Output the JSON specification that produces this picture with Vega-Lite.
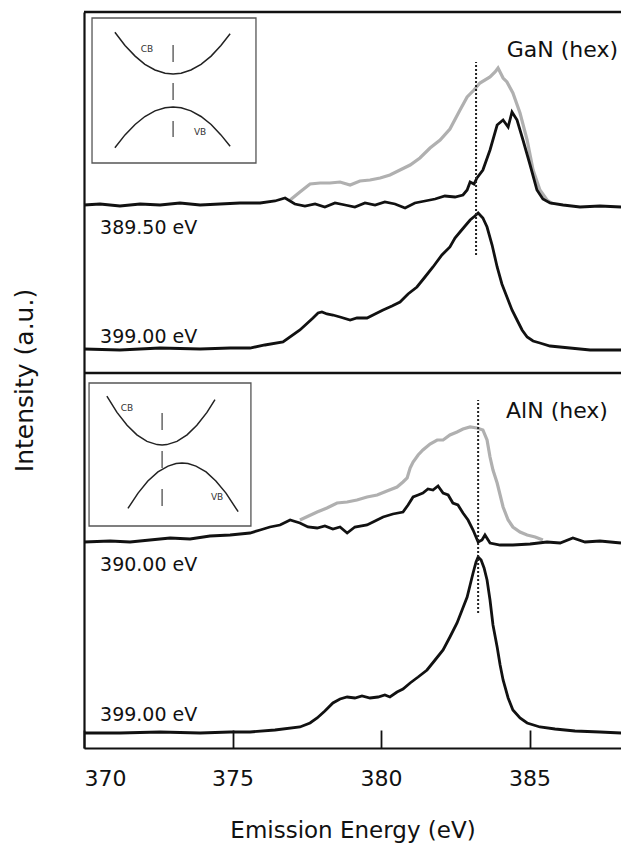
{
  "$schema": "https://vega.github.io/schema/vega-lite/v6.json",
  "width": 537,
  "height": 736,
  "autosize": "none",
  "padding": {"left": 84, "top": 12, "right": 0, "bottom": 95},
  "config": {"font": "DejaVu Sans", "view": {"stroke": null}, "axis": {"grid": false}},
  "datasets": {
    "gan389": [{"e":370.00,"i":543},{"e":370.54,"i":544},{"e":371.21,"i":542},{"e":371.89,"i":544},{"e":372.56,"i":543},{"e":373.23,"i":545},{"e":373.91,"i":543},{"e":374.58,"i":544},{"e":375.25,"i":545},{"e":375.93,"i":545},{"e":376.43,"i":547},{"e":376.77,"i":550},{"e":377.10,"i":544},{"e":377.44,"i":542},{"e":377.78,"i":544},{"e":378.11,"i":541},{"e":378.45,"i":545},{"e":378.79,"i":543},{"e":379.12,"i":541},{"e":379.46,"i":545},{"e":379.80,"i":543},{"e":380.13,"i":546},{"e":380.47,"i":544},{"e":380.81,"i":540},{"e":381.14,"i":545},{"e":381.48,"i":547},{"e":381.82,"i":549},{"e":382.15,"i":552},{"e":382.49,"i":551},{"e":382.76,"i":553},{"e":382.90,"i":558},{"e":383.00,"i":566},{"e":383.13,"i":564},{"e":383.23,"i":570},{"e":383.43,"i":578},{"e":383.67,"i":598},{"e":383.91,"i":623},{"e":384.11,"i":628},{"e":384.28,"i":621},{"e":384.41,"i":636},{"e":384.58,"i":628},{"e":384.78,"i":608},{"e":385.02,"i":583},{"e":385.25,"i":558},{"e":385.45,"i":549},{"e":385.69,"i":545},{"e":386.13,"i":543},{"e":386.70,"i":541},{"e":387.37,"i":542},{"e":388.08,"i":541}],
    "gan389ref": [{"e":376.94,"i":548},{"e":377.27,"i":556},{"e":377.61,"i":564},{"e":377.95,"i":565},{"e":378.28,"i":565},{"e":378.62,"i":566},{"e":378.96,"i":563},{"e":379.29,"i":567},{"e":379.63,"i":568},{"e":379.97,"i":570},{"e":380.30,"i":573},{"e":380.64,"i":578},{"e":380.98,"i":583},{"e":381.31,"i":590},{"e":381.65,"i":600},{"e":381.99,"i":608},{"e":382.32,"i":619},{"e":382.66,"i":638},{"e":382.90,"i":651},{"e":383.13,"i":658},{"e":383.33,"i":665},{"e":383.67,"i":671},{"e":383.84,"i":676},{"e":383.94,"i":680},{"e":384.11,"i":670},{"e":384.24,"i":666},{"e":384.44,"i":655},{"e":384.68,"i":635},{"e":384.92,"i":608},{"e":385.12,"i":578},{"e":385.35,"i":558},{"e":385.59,"i":548},{"e":385.79,"i":544}],
    "gan399": [{"e":370.00,"i":399},{"e":371.21,"i":398},{"e":372.56,"i":400},{"e":373.91,"i":399},{"e":374.92,"i":400},{"e":375.59,"i":400},{"e":376.09,"i":403},{"e":376.70,"i":406},{"e":377.27,"i":418},{"e":377.71,"i":430},{"e":377.88,"i":435},{"e":378.01,"i":436},{"e":378.18,"i":434},{"e":378.38,"i":433},{"e":378.62,"i":431},{"e":378.96,"i":428},{"e":379.19,"i":430},{"e":379.53,"i":430},{"e":379.80,"i":434},{"e":380.07,"i":438},{"e":380.37,"i":442},{"e":380.64,"i":446},{"e":380.91,"i":454},{"e":381.21,"i":461},{"e":381.48,"i":471},{"e":381.75,"i":481},{"e":382.05,"i":493},{"e":382.32,"i":501},{"e":382.49,"i":510},{"e":382.66,"i":516},{"e":382.83,"i":522},{"e":383.00,"i":528},{"e":383.16,"i":532},{"e":383.27,"i":535},{"e":383.43,"i":530},{"e":383.57,"i":521},{"e":383.74,"i":503},{"e":383.91,"i":481},{"e":384.07,"i":464},{"e":384.24,"i":451},{"e":384.41,"i":438},{"e":384.58,"i":428},{"e":384.75,"i":418},{"e":384.92,"i":411},{"e":385.12,"i":407},{"e":385.35,"i":405},{"e":385.69,"i":402},{"e":386.36,"i":400},{"e":387.04,"i":398},{"e":388.08,"i":398}],
    "aln390": [{"e":370.00,"i":206},{"e":370.88,"i":207},{"e":371.55,"i":206},{"e":372.22,"i":208},{"e":372.90,"i":210},{"e":373.57,"i":209},{"e":374.24,"i":212},{"e":374.92,"i":213},{"e":375.59,"i":215},{"e":375.93,"i":218},{"e":376.26,"i":221},{"e":376.60,"i":223},{"e":376.94,"i":228},{"e":377.27,"i":225},{"e":377.54,"i":221},{"e":377.85,"i":220},{"e":378.11,"i":222},{"e":378.38,"i":219},{"e":378.62,"i":221},{"e":378.86,"i":215},{"e":379.12,"i":221},{"e":379.53,"i":223},{"e":379.80,"i":227},{"e":380.07,"i":231},{"e":380.40,"i":234},{"e":380.74,"i":236},{"e":380.91,"i":243},{"e":381.08,"i":251},{"e":381.25,"i":253},{"e":381.41,"i":255},{"e":381.58,"i":259},{"e":381.75,"i":258},{"e":381.92,"i":262},{"e":382.09,"i":255},{"e":382.26,"i":253},{"e":382.42,"i":245},{"e":382.59,"i":243},{"e":382.76,"i":235},{"e":382.93,"i":228},{"e":383.10,"i":218},{"e":383.27,"i":206},{"e":383.40,"i":208},{"e":383.50,"i":213},{"e":383.67,"i":205},{"e":384.01,"i":203},{"e":384.44,"i":203},{"e":385.02,"i":204},{"e":385.59,"i":206},{"e":386.03,"i":205},{"e":386.46,"i":210},{"e":386.87,"i":206},{"e":387.37,"i":207},{"e":388.08,"i":205}],
    "aln390ref": [{"e":377.27,"i":228},{"e":377.85,"i":236},{"e":378.18,"i":240},{"e":378.52,"i":245},{"e":378.86,"i":246},{"e":379.19,"i":248},{"e":379.53,"i":251},{"e":379.87,"i":253},{"e":380.20,"i":257},{"e":380.54,"i":261},{"e":380.74,"i":266},{"e":380.88,"i":270},{"e":380.98,"i":280},{"e":381.08,"i":286},{"e":381.25,"i":293},{"e":381.41,"i":298},{"e":381.65,"i":304},{"e":381.89,"i":308},{"e":382.09,"i":308},{"e":382.32,"i":313},{"e":382.56,"i":316},{"e":382.76,"i":319},{"e":383.00,"i":321},{"e":383.23,"i":320},{"e":383.43,"i":318},{"e":383.57,"i":308},{"e":383.67,"i":291},{"e":383.77,"i":278},{"e":383.91,"i":265},{"e":384.11,"i":241},{"e":384.28,"i":228},{"e":384.44,"i":221},{"e":384.68,"i":216},{"e":384.92,"i":213},{"e":385.19,"i":211},{"e":385.45,"i":208}],
    "aln399": [{"e":370.00,"i":15},{"e":371.21,"i":15},{"e":372.56,"i":16},{"e":373.91,"i":15},{"e":374.92,"i":16},{"e":375.59,"i":16},{"e":376.43,"i":18},{"e":377.27,"i":21},{"e":377.61,"i":25},{"e":377.85,"i":30},{"e":378.11,"i":37},{"e":378.38,"i":45},{"e":378.62,"i":49},{"e":378.86,"i":51},{"e":379.12,"i":50},{"e":379.36,"i":52},{"e":379.63,"i":50},{"e":379.90,"i":51},{"e":380.13,"i":53},{"e":380.30,"i":51},{"e":380.54,"i":56},{"e":380.74,"i":59},{"e":380.98,"i":65},{"e":381.25,"i":71},{"e":381.55,"i":78},{"e":381.82,"i":88},{"e":382.09,"i":98},{"e":382.32,"i":111},{"e":382.56,"i":125},{"e":382.73,"i":138},{"e":382.90,"i":151},{"e":383.00,"i":163},{"e":383.10,"i":175},{"e":383.20,"i":186},{"e":383.27,"i":191},{"e":383.37,"i":188},{"e":383.47,"i":180},{"e":383.57,"i":168},{"e":383.67,"i":148},{"e":383.77,"i":123},{"e":383.91,"i":101},{"e":384.01,"i":83},{"e":384.11,"i":68},{"e":384.28,"i":50},{"e":384.44,"i":38},{"e":384.68,"i":30},{"e":384.92,"i":25},{"e":385.35,"i":21},{"e":385.86,"i":19},{"e":386.53,"i":17},{"e":387.37,"i":16},{"e":388.08,"i":15}],
    "bands": [
      {"band":"GaN CB","e":371.04,"i":715.7},{"band":"GaN CB","e":371.38,"i":702.6},{"band":"GaN CB","e":371.72,"i":691.9},{"band":"GaN CB","e":372.05,"i":683.7},{"band":"GaN CB","e":372.39,"i":678},{"band":"GaN CB","e":372.73,"i":674.8},{"band":"GaN CB","e":373.00,"i":674},{"band":"GaN CB","e":373.27,"i":674.8},{"band":"GaN CB","e":373.60,"i":678},{"band":"GaN CB","e":373.94,"i":683.7},{"band":"GaN CB","e":374.28,"i":691.9},{"band":"GaN CB","e":374.61,"i":702.6},{"band":"GaN CB","e":374.92,"i":714.3},
      {"band":"GaN VB","e":371.04,"i":600.3},{"band":"GaN VB","e":371.38,"i":613.1},{"band":"GaN VB","e":371.72,"i":623.5},{"band":"GaN VB","e":372.05,"i":631.5},{"band":"GaN VB","e":372.39,"i":637.1},{"band":"GaN VB","e":372.73,"i":640.2},{"band":"GaN VB","e":373.00,"i":641},{"band":"GaN VB","e":373.27,"i":640.2},{"band":"GaN VB","e":373.60,"i":637.1},{"band":"GaN VB","e":373.94,"i":631.5},{"band":"GaN VB","e":374.28,"i":623.5},{"band":"GaN VB","e":374.61,"i":613.1},{"band":"GaN VB","e":374.92,"i":601.7},
      {"band":"AlN CB","e":370.77,"i":351.8},{"band":"AlN CB","e":371.11,"i":335.6},{"band":"AlN CB","e":371.45,"i":322.7},{"band":"AlN CB","e":371.78,"i":313.1},{"band":"AlN CB","e":372.12,"i":306.6},{"band":"AlN CB","e":372.46,"i":303.4},{"band":"AlN CB","e":372.63,"i":303},{"band":"AlN CB","e":372.79,"i":303.4},{"band":"AlN CB","e":373.13,"i":306.6},{"band":"AlN CB","e":373.47,"i":313.1},{"band":"AlN CB","e":373.80,"i":322.7},{"band":"AlN CB","e":374.14,"i":335.6},{"band":"AlN CB","e":374.41,"i":348.3},
      {"band":"AlN VB","e":371.48,"i":239.7},{"band":"AlN VB","e":371.82,"i":254.9},{"band":"AlN VB","e":372.15,"i":267},{"band":"AlN VB","e":372.49,"i":276.1},{"band":"AlN VB","e":372.83,"i":281.9},{"band":"AlN VB","e":373.10,"i":284.4},{"band":"AlN VB","e":373.30,"i":285},{"band":"AlN VB","e":373.50,"i":284.4},{"band":"AlN VB","e":373.77,"i":281.9},{"band":"AlN VB","e":374.11,"i":276.1},{"band":"AlN VB","e":374.44,"i":267},{"band":"AlN VB","e":374.78,"i":254.9},{"band":"AlN VB","e":375.19,"i":236.3}
    ],
    "boxes": [{"e":370.27,"e2":375.79,"i":585,"i2":730},{"e":370.17,"e2":375.62,"i":222,"i2":365}],
    "gapdash": [{"e":373.00,"i":703,"i2":611},{"e":372.63,"i":335,"i2":241}],
    "markers": [{"e":383.20,"i":493,"i2":686},{"e":383.27,"i":135,"i2":348}],
    "frame": [{"e":370,"e2":388.08,"i":736},{"e":370,"e2":388.08,"i":375}],
    "energyLabels": [{"e":370.54,"i":520,"t":"389.50 eV"},{"e":370.54,"i":411,"t":"399.00 eV"},{"e":370.54,"i":183,"t":"390.00 eV"},{"e":370.54,"i":33,"t":"399.00 eV"}],
    "materials": [{"e":387.98,"i":698,"t":"GaN (hex)"},{"e":387.64,"i":337,"t":"AlN (hex)"}],
    "bandLabels": [{"e":372.12,"i":699,"t":"CB"},{"e":373.91,"i":616,"t":"VB"},{"e":371.45,"i":340,"t":"CB"},{"e":374.48,"i":251,"t":"VB"}]
  },
  "encoding": {
    "x": {"field": "e", "type": "quantitative",
      "scale": {"domain": [370, 388.08], "nice": false, "zero": false},
      "axis": {"values": [370, 375, 380, 385], "tickSize": -18, "tickWidth": 1.8, "tickColor": "#111",
        "domainColor": "#111", "domainWidth": 2.2, "labelFontSize": 22, "labelColor": "#111", "labelPadding": 38,
        "title": "Emission Energy (eV)", "titleFontSize": 23, "titleFontWeight": "normal", "titleColor": "#111", "titlePadding": 30}},
    "y": {"field": "i", "type": "quantitative",
      "scale": {"domain": [0, 736], "nice": false, "zero": false},
      "axis": {"ticks": false, "labels": false, "domainColor": "#111", "domainWidth": 2.2,
        "title": "Intensity (a.u.)", "titleFontSize": 25, "titleFontWeight": "normal", "titleColor": "#111", "titlePadding": 47}}
  },
  "layer": [
    {"data": {"name": "boxes"}, "mark": {"type": "rect", "fill": "white", "stroke": "#555", "strokeWidth": 1.3},
     "encoding": {"x2": {"field": "e2"}, "y2": {"field": "i2"}}},
    {"data": {"name": "gan389ref"}, "mark": {"type": "line", "color": "#b0b0b0", "strokeWidth": 3.2}},
    {"data": {"name": "aln390ref"}, "mark": {"type": "line", "color": "#b0b0b0", "strokeWidth": 3.2}},
    {"data": {"name": "gan389"}, "mark": {"type": "line", "color": "#111", "strokeWidth": 2.8}},
    {"data": {"name": "gan399"}, "mark": {"type": "line", "color": "#111", "strokeWidth": 2.8}},
    {"data": {"name": "aln390"}, "mark": {"type": "line", "color": "#111", "strokeWidth": 2.8}},
    {"data": {"name": "aln399"}, "mark": {"type": "line", "color": "#111", "strokeWidth": 2.8}},
    {"data": {"name": "bands"}, "mark": {"type": "line", "color": "#222", "strokeWidth": 1.5},
     "encoding": {"detail": {"field": "band"}}},
    {"data": {"name": "gapdash"}, "mark": {"type": "rule", "color": "#666", "strokeWidth": 1.5, "strokeDash": [17, 21]},
     "encoding": {"y2": {"field": "i2"}}},
    {"data": {"name": "markers"}, "mark": {"type": "rule", "color": "#222", "strokeWidth": 2, "strokeDash": [2, 2]},
     "encoding": {"y2": {"field": "i2"}}},
    {"data": {"name": "frame"}, "mark": {"type": "rule", "color": "#111", "strokeWidth": 2.4},
     "encoding": {"x2": {"field": "e2"}}},
    {"data": {"name": "energyLabels"}, "mark": {"type": "text", "align": "left", "baseline": "middle", "fontSize": 19, "color": "#111"},
     "encoding": {"text": {"field": "t"}}},
    {"data": {"name": "materials"}, "mark": {"type": "text", "align": "right", "baseline": "middle", "fontSize": 22, "color": "#111"},
     "encoding": {"text": {"field": "t"}}},
    {"data": {"name": "bandLabels"}, "mark": {"type": "text", "align": "center", "baseline": "middle", "fontSize": 9, "color": "#333"},
     "encoding": {"text": {"field": "t"}}}
  ]
}
